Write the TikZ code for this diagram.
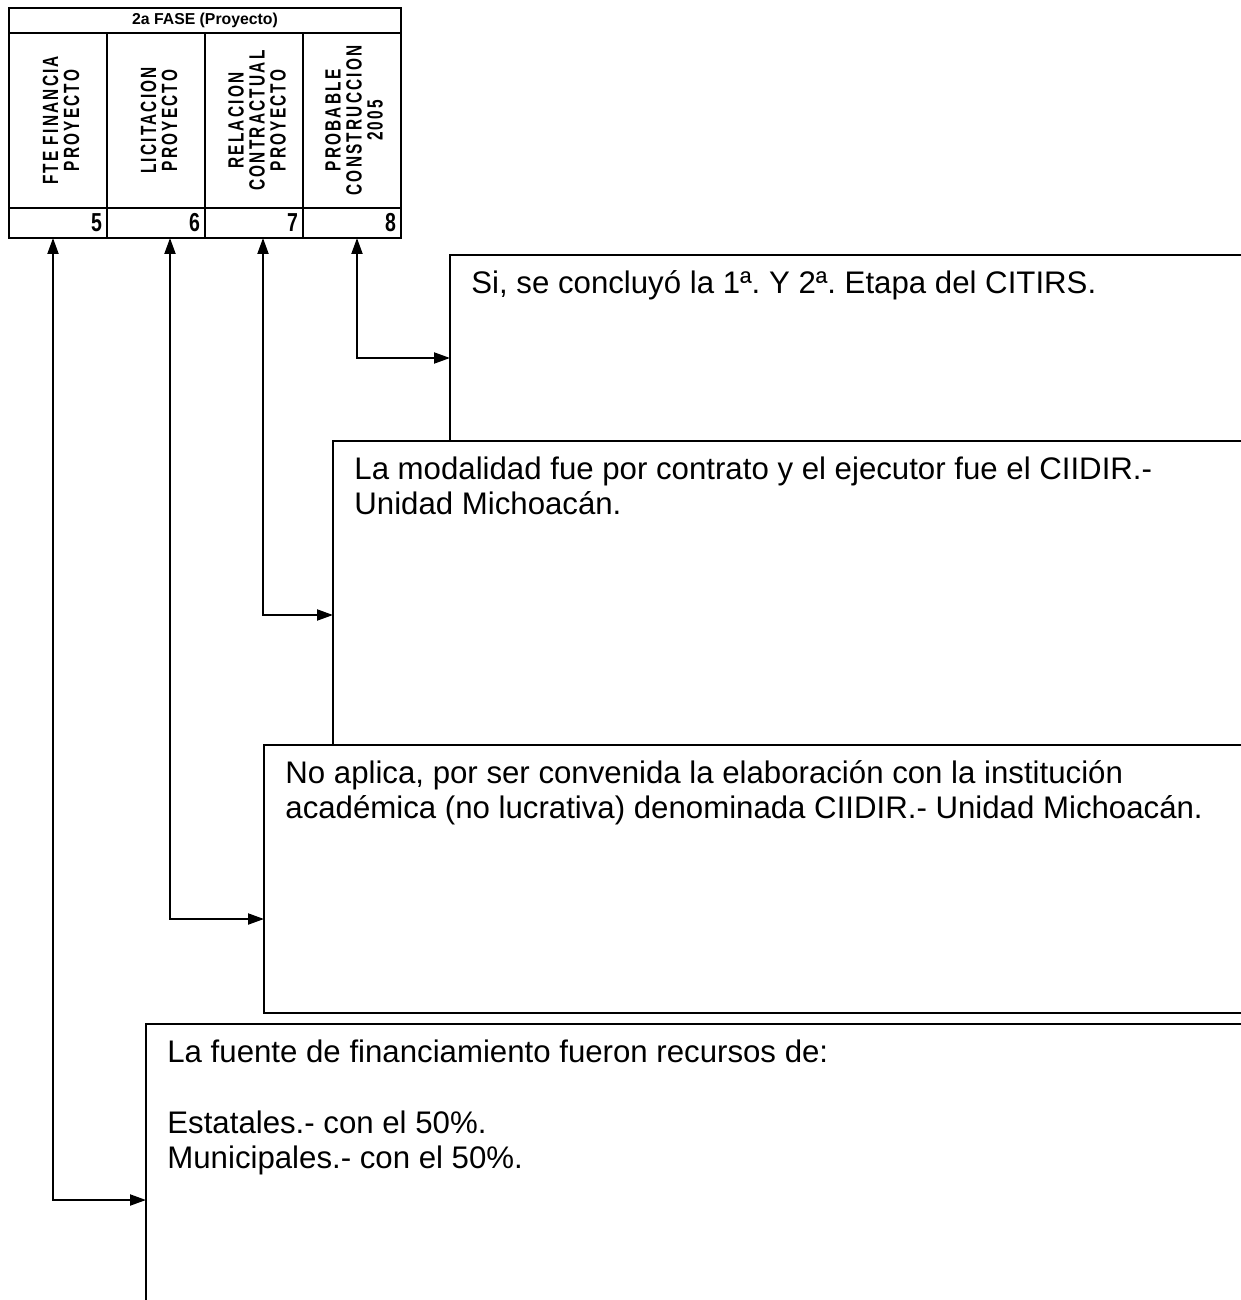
\documentclass[tikz,border=0pt]{standalone}
\usepackage{fontspec}
\setmainfont{Liberation Sans}
\newfontfamily\colfont[FakeStretch=0.7,LetterSpace=10]{Liberation Sans}
\newfontfamily\numfont[FakeStretch=0.75]{Liberation Sans}
\usepackage{xcolor}
\usepackage{tikz}
\usetikzlibrary{positioning, arrows.meta}
\frenchspacing

\begin{document}
\begin{tikzpicture}[x=0.5pt, y=-0.5pt,
			cell/.style={draw, line width=1pt, outer sep=0pt, inner sep=0pt, minimum width=49pt},
			head/.style={cell, minimum height=87.5pt},
			numcell/.style={cell, minimum height=15pt, text width=44pt, inner xsep=2.5pt, align=right, font=\numfont\bfseries\fontsize{13pt}{13pt}\selectfont},
			coltext/.style={rotate=90, align=center, font=\colfont\bfseries\fontsize{11pt}{10.5pt}\selectfont},
			box/.style={draw, fill=white, line width=1pt, anchor=north west, outer sep=0pt},
			boxtext/.style={anchor=north west, inner sep=0pt, align=left, font=\fontsize{15.6pt}{17.75pt}\selectfont},
			link/.style={{Triangle[length=8pt,width=5.5pt]}-{Triangle[length=8pt,width=5.5pt]}, line width=1pt}]
			\useasboundingbox (0,0) rectangle (1241,1300);
			\clip (0,0) rectangle (1241,1300);

			\node [head, anchor=north west] (h5) at (9,33) {};
			\node [head, right=0pt of h5] (h6) {};
			\node [head, right=0pt of h6] (h7) {};
			\node [head, right=0pt of h7] (h8) {};
			\node [cell, minimum width=196pt, minimum height=12.5pt, anchor=south west, font=\bfseries\fontsize{7.9pt}{8pt}\selectfont] (fase) at (h5.north west) {2a FASE (Proyecto)};

			\node [coltext] (l5) at ([xshift=1.5pt]h5.center) {FTE FINANCIA\\PROYECTO};
			\node [coltext] (l6) at ([xshift=1.5pt]h6.center) {LICITACION\\PROYECTO};
			\node [coltext] (l7) at ([xshift=1.5pt]h7.center) {RELACION\\CONTRACTUAL\\PROYECTO};
			\node [coltext] (l8) at ([xshift=1pt]h8.center) {PROBABLE\\CONSTRUCCION\\2005};

			\node [numcell, below=0pt of h5] (n5) {5};
			\node [numcell, below=0pt of h6] (n6) {6};
			\node [numcell, below=0pt of h7] (n7) {7};
			\node [numcell, below=0pt of h8] (n8) {8};

			\node [box, minimum width=405pt, minimum height=172.5pt] (b8) at (450,255) {};
			\node [boxtext] (t8) at ([xshift=10.5pt, yshift=-4pt]b8.north west) {\rule{0pt}{15pt}Si, se concluyó la 1ª. Y 2ª. Etapa del CITIRS.};
			\node [box, minimum width=463.5pt, minimum height=229.5pt] (b7) at (333,441) {};
			\node [boxtext] (t7) at ([xshift=10.5pt, yshift=-4pt]b7.north west) {\rule{0pt}{15pt}La modalidad fue por contrato y el ejecutor fue el CIIDIR.-\\Unidad Michoacán.};
			\node [box, minimum width=498pt, minimum height=134pt] (b6) at (264,745) {};
			\node [boxtext] (t6) at ([xshift=10.5pt, yshift=-4pt]b6.north west) {\rule{0pt}{15pt}No aplica, por ser convenida la elaboración con la institución\\académica (no lucrativa) denominada CIIDIR.- Unidad Michoacán.};
			\node [box, minimum width=557pt, minimum height=153pt] (b5) at (146,1024) {};
			\node [boxtext] (t5) at ([xshift=10.5pt, yshift=-4pt]b5.north west) {\rule{0pt}{15pt}La fuente de financiamiento fueron recursos de:\\[17.75pt]Estatales.- con el 50\%.\\Municipales.- con el 50\%.};

			\coordinate (in8) at (450,358);
			\coordinate (in7) at (333,615);
			\coordinate (in6) at (264,919);
			\coordinate (in5) at (146,1200);

			\draw [link] ([xshift=2.5pt]n8.south) |- (in8);
			\draw [link] ([xshift=4.5pt]n7.south) |- (in7);
			\draw [link] ([xshift=7pt]n6.south) |- (in6);
			\draw [link] ([xshift=-2.5pt]n5.south) |- (in5);
		\end{tikzpicture}
\end{document}
